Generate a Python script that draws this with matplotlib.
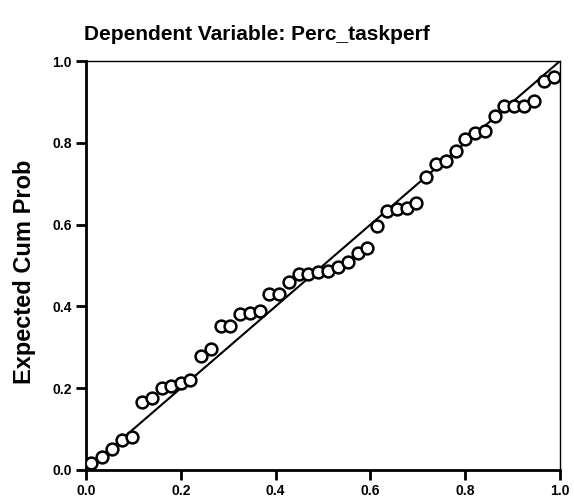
import matplotlib
matplotlib.use("Agg")
import matplotlib.pyplot as plt

title = "Dependent Variable: Perc_taskperf"
ylabel = "Expected Cum Prob"
ticks = [0.0, 0.2, 0.4, 0.6, 0.8, 1.0]
tick_labels = ["0.0", "0.2", "0.4", "0.6", "0.8", "1.0"]

observed = [0.010, 0.034, 0.055, 0.076, 0.097, 0.118, 0.139, 0.160, 0.180, 0.200,
            0.220, 0.243, 0.264, 0.285, 0.304, 0.325, 0.346, 0.367, 0.386, 0.407,
            0.428, 0.449, 0.468, 0.489, 0.510, 0.532, 0.553, 0.574, 0.593, 0.614,
            0.635, 0.656, 0.677, 0.696, 0.717, 0.738, 0.759, 0.781, 0.800, 0.821,
            0.842, 0.863, 0.882, 0.903, 0.924, 0.945, 0.966, 0.987]
expected = [0.017, 0.032, 0.051, 0.073, 0.081, 0.166, 0.176, 0.200, 0.205, 0.213,
            0.220, 0.279, 0.296, 0.352, 0.352, 0.381, 0.384, 0.389, 0.430, 0.430,
            0.460, 0.479, 0.479, 0.484, 0.487, 0.496, 0.509, 0.531, 0.543, 0.597,
            0.633, 0.638, 0.640, 0.653, 0.716, 0.748, 0.755, 0.780, 0.809, 0.824,
            0.829, 0.866, 0.890, 0.890, 0.890, 0.902, 0.951, 0.961]
ref_line = [0.0, 1.0]

plt.rcParams['font.family'] = ['Liberation Sans', 'DejaVu Sans']
fig = plt.figure(figsize=(5.74, 5.01), dpi=100)
ax = fig.add_axes([0.1498, 0.0619, 0.8258, 0.8163])

ax.plot(ref_line, ref_line, color='black', lw=1.5, zorder=2)
ax.plot(observed, expected, linestyle='none', marker='o', markersize=8.5,
        markerfacecolor='white', markeredgecolor='black', markeredgewidth=1.8, zorder=3)

ax.set_xlim(0, 1)
ax.set_ylim(0, 1)
ax.set_xticks(ticks)
ax.set_xticklabels(tick_labels, fontsize=10, fontweight='bold')
ax.set_yticks(ticks)
ax.set_yticklabels(tick_labels, fontsize=10, fontweight='bold')
ax.tick_params(direction='out', length=7, width=2, pad=3)
for s in ['left', 'bottom']:
    ax.spines[s].set_linewidth(2)
for s in ['top', 'right']:
    ax.spines[s].set_linewidth(1)

fig.text(24 / 574, 1 - 272 / 501, ylabel, rotation=90, ha='center', va='center',
         fontsize=17, fontweight='bold')
fig.text(257 / 574, 1 - 40 / 501, title, ha='center', va='baseline',
         fontsize=15, fontweight='bold')

fig.savefig("out.png", dpi=100)
